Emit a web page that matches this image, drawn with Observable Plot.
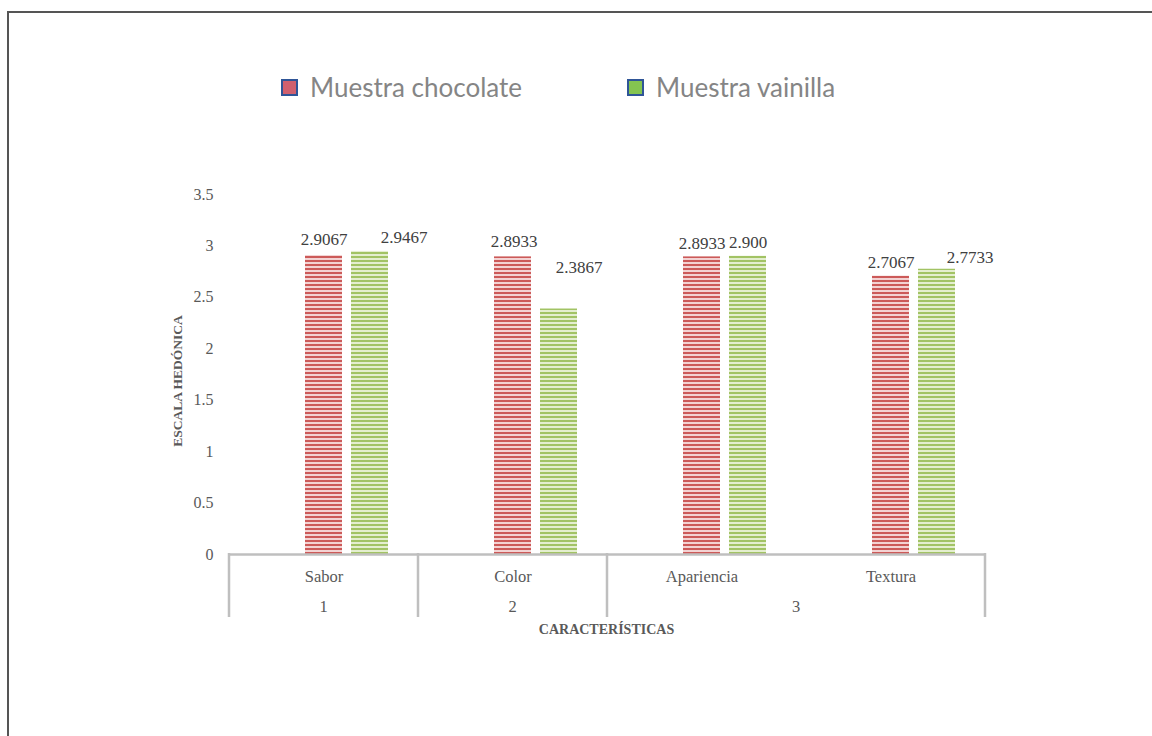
<!DOCTYPE html>
<html><head><meta charset="utf-8">
<script src="https://cdn.jsdelivr.net/npm/d3@7"></script>
<script src="https://cdn.jsdelivr.net/npm/@observablehq/plot@0.6"></script>
<style>
body{margin:0;background:#fff;}
#wrap{position:relative;width:1152px;height:736px;overflow:hidden;background:#fff;}
#border{position:absolute;left:7px;top:11px;width:1200px;height:800px;border-left:2px solid #555;border-top:2px solid #555;box-sizing:border-box;}
#legend{position:absolute;top:0;left:0;width:1152px;height:140px;}
.item{position:absolute;top:71px;height:32px;font-family:Lato,"Open Sans",sans-serif;font-size:26px;color:#858585;display:flex;align-items:center;white-space:nowrap;}
.sw{width:13px;height:13px;border:2px solid #2f5597;margin-right:12px;}
#chart{position:absolute;top:140px;left:0;}
</style></head>
<body>
<div id="wrap">
  <div id="legend"></div>
  <div id="chart"></div>
  <div id="border"></div>
</div>
<script>
// ---- data ----
const categories = ["Sabor", "Color", "Apariencia", "Textura"];
const groupLabels = ["1", "2", "3"];
const groupMembers = [["Sabor"], ["Color"], ["Apariencia", "Textura"]];
const series = ["Muestra chocolate", "Muestra vainilla"];
const chocolate = [2.9067, 2.8933, 2.8933, 2.7067];
const vainilla = [2.9467, 2.3867, 2.900, 2.7733];
const chocolateLabels = ["2.9067", "2.8933", "2.8933", "2.7067"];
const vainillaLabels = ["2.9467", "2.3867", "2.900", "2.7733"];
const yTicks = [0, 0.5, 1, 1.5, 2, 2.5, 3, 3.5];
const yTitle = "ESCALA HEDÓNICA";
const xTitle = "CARACTERÍSTICAS";

// ---- styles (not data) ----
const legendColors = ["#d0606e", "#84c450"];
const legendLeft = [281, 627];
const chocOffsets = [[0, -15.5], [1, -15], [0, -13.5], [0, -14]];
const vanOffsets = [[34, -13.5], [20, -41], [0, -13.5], [33, -12]];

// legend
const leg = d3.select("#legend");
series.forEach((s, i) => {
  const it = leg.append("div").attr("class", "item").style("left", legendLeft[i] + "px");
  it.append("div").attr("class", "sw").style("background", legendColors[i]);
  it.append("span").text(s);
});

// table
const rows = categories.flatMap((c, i) => [
  {cat: c, series: series[0], value: chocolate[i], label: chocolateLabels[i], off: chocOffsets[i]},
  {cat: c, series: series[1], value: vainilla[i], label: vainillaLabels[i], off: vanOffsets[i]}
]);

const labelMarks = rows.map(r => Plot.text([r], {
  fx: "cat", x: "series", y: "value", text: "label",
  dx: r.off[0], dy: r.off[1], lineAnchor: "middle",
  fontSize: 17, fill: "#404040"
}));

const plot = Plot.plot({
  width: 1152,
  height: 596,
  marginTop: 54,
  marginBottom: 182,
  marginLeft: 228,
  marginRight: 167,
  style: {fontFamily: "'Liberation Serif', serif", fontSize: "16px", color: "#595959", background: "transparent"},
  fx: {domain: categories, padding: 0, axis: null, label: null},
  x: {domain: [" ", ...series], paddingInner: 0.19, paddingOuter: 0.61, axis: null},
  y: {domain: [0, 3.5], ticks: yTicks, tickFormat: d => String(d), tickSize: 0, tickPadding: 16, label: null},
  color: {domain: series, range: ["url(#pChoc)", "url(#pVan)"]},
  marks: [
    Plot.barY(rows, {fx: "cat", x: "series", y: "value", fill: "series"}),
    ...labelMarks,
    Plot.ruleY([0], {stroke: "#bfbfbf", strokeWidth: 2.5}),
    Plot.text(categories, {fx: d => d, text: d => d, frameAnchor: "bottom", dy: 22, lineAnchor: "middle", fontSize: 16.5, fill: "#595959"})
  ]
});

document.getElementById("chart").appendChild(plot);

const svg = d3.select(plot);
const defs = svg.insert("defs", ":first-child");
function pattern(id, bg, fg) {
  const p = defs.append("pattern").attr("id", id).attr("patternUnits", "userSpaceOnUse")
    .attr("width", 8).attr("height", 4);
  p.append("rect").attr("width", 8).attr("height", 4).attr("fill", bg);
  p.append("rect").attr("width", 8).attr("height", 2).attr("fill", fg);
}
pattern("pChoc", "#f3d3d3", "#cc5a59");
pattern("pVan", "#e4eecf", "#a2c364");

// axis decorations through the plot's scales
const fx = plot.scale("fx");
const ys = plot.scale("y");
const bw = fx.bandwidth;
const y0 = ys.apply(0);
const deco = svg.append("g");
const seps = groupMembers.map(m => fx.apply(m[0]));
seps.push(fx.apply(groupMembers[groupMembers.length - 1].slice(-1)[0]) + bw);
seps.forEach(x => deco.append("line").attr("x1", x).attr("x2", x).attr("y1", y0 - 1).attr("y2", y0 + 63)
  .attr("stroke", "#bfbfbf").attr("stroke-width", 2.5));
groupLabels.forEach((g, i) => {
  const m = groupMembers[i];
  const cx = (fx.apply(m[0]) + fx.apply(m[m.length - 1]) + bw) / 2;
  deco.append("text").attr("x", cx).attr("y", y0 + 58).attr("text-anchor", "middle")
    .attr("font-size", 16.5).attr("fill", "#595959").text(g);
});
const xr = fx.range;
deco.append("text").attr("x", (xr[0] + xr[1]) / 2).attr("y", y0 + 80).attr("text-anchor", "middle")
  .attr("font-size", 14).attr("font-weight", "bold").attr("fill", "#595959").text(xTitle);
const yr = ys.range;
deco.append("text").attr("transform", `translate(${xr[0] - 46},${(yr[0] + yr[1]) / 2 + 7}) rotate(-90)`)
  .attr("text-anchor", "middle").attr("font-size", 13.5).attr("font-weight", "bold").attr("fill", "#595959").text(yTitle);
</script>
</body></html>
